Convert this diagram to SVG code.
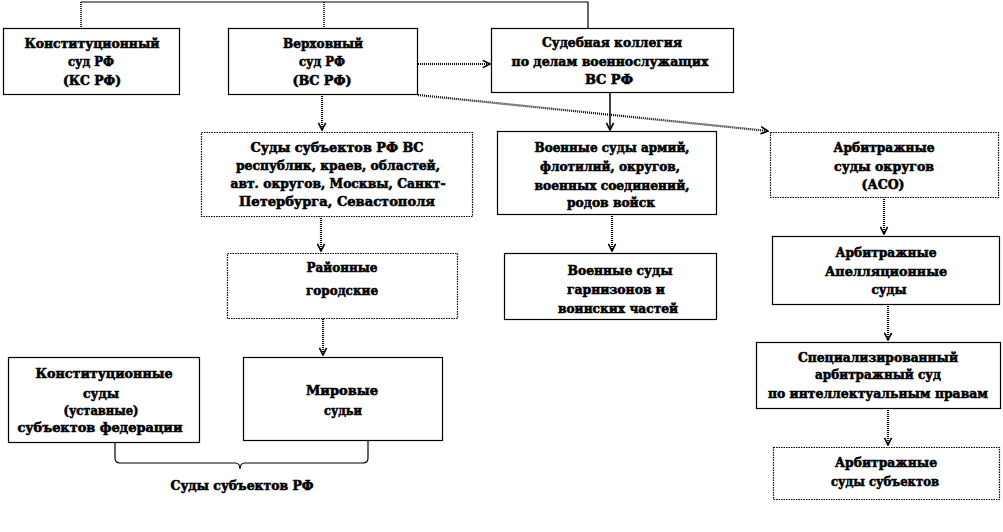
<svg xmlns="http://www.w3.org/2000/svg" width="1003" height="532" viewBox="0 0 1003 532">
<style>
.box{fill:#fff;stroke:#000;stroke-width:1.2}
.dbox{fill:#fff;stroke:#000;stroke-width:1.2;stroke-dasharray:1.5 1}
.t text{font-family:'DejaVu Serif',serif;font-weight:700;font-size:13px;fill:#000;stroke:#000;stroke-width:0.6;text-anchor:middle}
.arr{fill:none;stroke:#000;stroke-width:2.2;stroke-dasharray:1 1;marker-end:url(#ah)}
.arrs{fill:none;stroke:#000;stroke-width:1.5;marker-end:url(#ah)}
.ln{fill:none;stroke:#000;stroke-width:1.2}
.lnd{fill:none;stroke:#000;stroke-width:1.6;stroke-dasharray:1 1}
</style>
<defs>
<marker id="ah" viewBox="0 0 10 10" refX="9" refY="5" markerWidth="9" markerHeight="9" markerUnits="userSpaceOnUse" orient="auto">
<path d="M1,1 L9,5 L1,9" fill="none" stroke="#000" stroke-width="1.8" stroke-dasharray="none"/>
</marker>
</defs>
<rect width="1003" height="532" fill="#fff"/>

<g id="connectors">
<path class="ln" d="M81,2 H588 V28"/>
<path class="lnd" d="M81,2 V28"/>
<path class="lnd" d="M324,2 V28"/>
<path class="arr" d="M418,64 H490"/>
<path class="arr" d="M418,95 L768,131"/>
<path class="arr" d="M322,96 V130"/>
<path class="arrs" d="M610,93 V130"/>
<path class="arr" d="M321,216 V251"/>
<path class="arr" d="M612,214 V251"/>
<path class="arr" d="M323,319 V355"/>
<path class="arr" d="M884,197 V234"/>
<path class="arr" d="M888,304 V340"/>
<path class="arr" d="M888,408 V445"/>
<path class="ln" d="M115,442 V458 Q115,463 120,463 H235 Q240,463 240,469 Q240,463 245,463 H363 Q368,463 368,458 V441"/>
</g>

<g class="t">
<g id="ks">
<rect class="box" x="3.5" y="28.5" width="176" height="66"/>
<text x="92" y="48" textLength="135" lengthAdjust="spacingAndGlyphs">Конституционный</text>
<text x="91" y="66" textLength="46" lengthAdjust="spacingAndGlyphs">суд РФ</text>
<text x="92" y="85" textLength="58" lengthAdjust="spacingAndGlyphs">(КС РФ)</text>
</g>

<g id="vs">
<rect class="box" x="228.5" y="28.5" width="189" height="66"/>
<text x="323" y="48" textLength="80" lengthAdjust="spacingAndGlyphs">Верховный</text>
<text x="322" y="66" textLength="46" lengthAdjust="spacingAndGlyphs">суд РФ</text>
<text x="322" y="85" textLength="59" lengthAdjust="spacingAndGlyphs">(ВС РФ)</text>
</g>

<g id="kollegia">
<rect class="box" x="491.5" y="28.5" width="242" height="64"/>
<text x="612" y="47" textLength="140" lengthAdjust="spacingAndGlyphs">Судебная коллегия</text>
<text x="610" y="66" textLength="197" lengthAdjust="spacingAndGlyphs">по делам военнослужащих</text>
<text x="609" y="84" textLength="48" lengthAdjust="spacingAndGlyphs">ВС РФ</text>
</g>

<g id="sudy-subjektov">
<rect class="dbox" x="201.5" y="132.5" width="271" height="84"/>
<text x="337" y="152" textLength="173" lengthAdjust="spacingAndGlyphs">Суды субъектов РФ ВС</text>
<text x="338" y="170" textLength="204" lengthAdjust="spacingAndGlyphs">республик, краев, областей,</text>
<text x="338" y="188" textLength="215" lengthAdjust="spacingAndGlyphs">авт. округов, Москвы, Санкт-</text>
<text x="337" y="206" textLength="196" lengthAdjust="spacingAndGlyphs">Петербурга, Севастополя</text>
</g>

<g id="voennye-armij">
<rect class="box" x="497.5" y="131.5" width="219" height="83"/>
<text x="612" y="152" textLength="155" lengthAdjust="spacingAndGlyphs">Военные суды армий,</text>
<text x="610" y="171" textLength="140" lengthAdjust="spacingAndGlyphs">флотилий, округов,</text>
<text x="612" y="190" textLength="155" lengthAdjust="spacingAndGlyphs">военных соединений,</text>
<text x="611" y="207" textLength="88" lengthAdjust="spacingAndGlyphs">родов войск</text>
</g>

<g id="arb-okrugov">
<rect class="dbox" x="770.5" y="132.5" width="228" height="65"/>
<text x="884" y="152" textLength="101" lengthAdjust="spacingAndGlyphs">Арбитражные</text>
<text x="884" y="171" textLength="100" lengthAdjust="spacingAndGlyphs">суды округов</text>
<text x="883" y="189" textLength="43" lengthAdjust="spacingAndGlyphs">(АСО)</text>
</g>

<g id="rajonnye">
<rect class="dbox" x="227.5" y="253.5" width="230" height="65"/>
<text x="342" y="272" textLength="71" lengthAdjust="spacingAndGlyphs">Районные</text>
<text x="342" y="295" textLength="72" lengthAdjust="spacingAndGlyphs">городские</text>
</g>

<g id="voennye-garnizonov">
<rect class="box" x="504.5" y="253.5" width="212" height="66"/>
<text x="620" y="275" textLength="105" lengthAdjust="spacingAndGlyphs">Военные суды</text>
<text x="616" y="294" textLength="98" lengthAdjust="spacingAndGlyphs">гарнизонов и</text>
<text x="618" y="313" textLength="120" lengthAdjust="spacingAndGlyphs">воинских частей</text>
</g>

<g id="arb-apell">
<rect class="box" x="772.5" y="236.5" width="227" height="68"/>
<text x="886" y="257" textLength="101" lengthAdjust="spacingAndGlyphs">Арбитражные</text>
<text x="886" y="276" textLength="122" lengthAdjust="spacingAndGlyphs">Апелляционные</text>
<text x="889" y="294" textLength="35" lengthAdjust="spacingAndGlyphs">суды</text>
</g>

<g id="spec">
<rect class="box" x="756.5" y="342.5" width="244" height="66"/>
<text x="878" y="362" textLength="160" lengthAdjust="spacingAndGlyphs">Специализированный</text>
<text x="878" y="379" textLength="126" lengthAdjust="spacingAndGlyphs">арбитражный суд</text>
<text x="878" y="398" textLength="220" lengthAdjust="spacingAndGlyphs">по интеллектуальным правам</text>
</g>

<g id="arb-subjektov">
<rect class="dbox" x="773.5" y="447.5" width="226" height="52"/>
<text x="886" y="467" textLength="102" lengthAdjust="spacingAndGlyphs">Арбитражные</text>
<text x="885" y="486" textLength="108" lengthAdjust="spacingAndGlyphs">суды субъектов</text>
</g>

<g id="konst-subjektov">
<rect class="box" x="8.5" y="357.5" width="191" height="85"/>
<text x="104" y="378" textLength="137" lengthAdjust="spacingAndGlyphs">Конституционные</text>
<text x="101" y="398" textLength="36" lengthAdjust="spacingAndGlyphs">суды</text>
<text x="101" y="415" textLength="75" lengthAdjust="spacingAndGlyphs">(уставные)</text>
<text x="100" y="432" textLength="165" lengthAdjust="spacingAndGlyphs">субъектов федерации</text>
</g>

<g id="mirovye">
<rect class="box" x="243.5" y="357.5" width="199" height="83"/>
<text x="342" y="395" textLength="72" lengthAdjust="spacingAndGlyphs">Мировые</text>
<text x="343" y="415" textLength="38" lengthAdjust="spacingAndGlyphs">судьи</text>
</g>

<g id="label-subjekty">
<text x="242" y="490" textLength="143" lengthAdjust="spacingAndGlyphs">Суды субъектов РФ</text>
</g>
</g>
</svg>
